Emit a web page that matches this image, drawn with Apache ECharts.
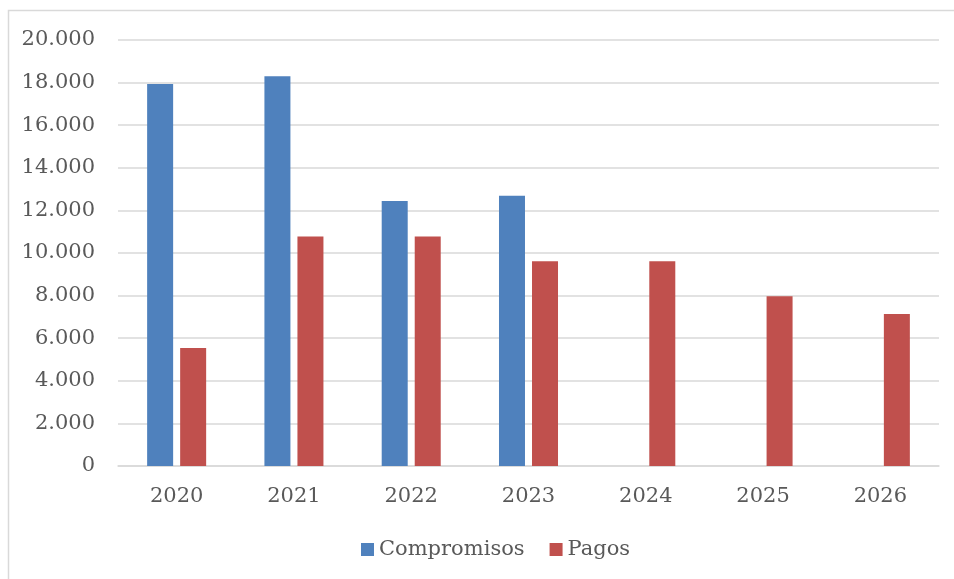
<!DOCTYPE html>
<html>
<head>
<meta charset="utf-8">
<script src="https://cdn.jsdelivr.net/npm/echarts@6/dist/echarts.min.js"></script>
<style>
  html, body { margin: 0; padding: 0; background: #ffffff; }
  #chart { width: 954px; height: 579px; }
</style>
</head>
<body>
<div id="chart"></div>
<script>
// datos
const years = ["2020", "2021", "2022", "2023", "2024", "2025", "2026"];
const compromisos = [17930, 18300, 12440, 12690, null, null, null];
const pagos = [5540, 10780, 10780, 9610, 9610, 7970, 7140];
const seriesNames = ["Compromisos", "Pagos"];

const textColor = "#595959";
const fontFamily = "DejaVu Serif";

const myChart = echarts.init(document.getElementById("chart"));
const option = {
  animation: false,
  backgroundColor: "#ffffff",
  graphic: [
    {
      type: "rect",
      shape: { x: 8.5, y: 10.5, width: 950, height: 580 },
      style: { fill: "none", stroke: "#d9d9d9", lineWidth: 1.5 },
      silent: true
    }
  ],
  legend: {
    data: seriesNames,
    bottom: 14,
    left: 356,
    itemWidth: 13,
    itemHeight: 13,
    itemGap: 25,
    icon: "rect",
    textStyle: { color: textColor, fontFamily: fontFamily, fontSize: 21 }
  },
  grid: {
    left: 118,
    right: 15,
    top: 40,
    bottom: 113
  },
  xAxis: {
    type: "category",
    data: years,
    axisLine: { show: true, lineStyle: { color: "#d9d9d9", width: 1.5 } },
    axisTick: { show: false },
    axisLabel: { color: textColor, fontFamily: fontFamily, fontSize: 21, margin: 20 }
  },
  yAxis: {
    type: "value",
    min: 0,
    max: 20000,
    interval: 2000,
    axisLine: { show: false },
    axisTick: { show: false },
    splitLine: { lineStyle: { color: "#d9d9d9", width: 1.5 } },
    axisLabel: {
      color: textColor,
      fontFamily: fontFamily,
      fontSize: 21,
      margin: 23,
      formatter: v => v === 0 ? "0" : (v / 1000).toFixed(0) + ".000"
    }
  },
  series: [
    {
      name: seriesNames[0],
      type: "bar",
      data: compromisos,
      barWidth: 26,
      barGap: "27%",
      itemStyle: { color: "#4f81bd" }
    },
    {
      name: seriesNames[1],
      type: "bar",
      data: pagos,
      barWidth: 26,
      itemStyle: { color: "#c0504d" }
    }
  ]
};
myChart.setOption(option);
</script>
</body>
</html>
